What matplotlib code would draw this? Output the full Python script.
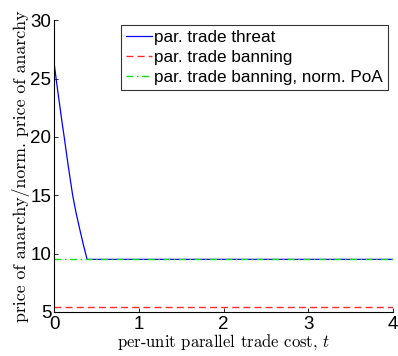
import matplotlib
matplotlib.use('Agg')
import matplotlib.pyplot as plt

plt.rcParams['mathtext.fontset'] = 'cm'

# blue curve: price of anarchy under parallel trade threat
t_threat = [0.0, 0.03, 0.06, 0.09, 0.12, 0.145, 0.17, 0.22, 0.26, 0.3, 0.345, 0.39, 1.0, 2.0, 3.0, 4.0]
poa_threat = [26.4, 24.7, 23.1, 21.5, 20.0, 18.7, 17.4, 15.0, 13.5, 12.2, 10.8, 9.5, 9.5, 9.5, 9.5, 9.5]

t_flat = [0.0, 4.0]
poa_banning = [5.4, 5.4]
poa_banning_norm = [9.5, 9.5]

labels = ['par. trade threat', 'par. trade banning', 'par. trade banning, norm. PoA']

fig = plt.figure(figsize=(3.98, 3.56), dpi=100)
ax = fig.add_axes([0.1357, 0.124, 0.852, 0.819])

ax.plot(t_threat, poa_threat, color='blue', linewidth=0.9, label=labels[0])
ax.plot(t_flat, poa_banning, color='#ff2a2a', linestyle='--', linewidth=1.0, dashes=(5, 3), label=labels[1])
ax.plot(t_flat, poa_banning_norm, color='#10e010', linestyle='-.', linewidth=1.0,
        dashes=(5, 2.5, 1.2, 2.5), label=labels[2])

ax.set_xlim(0, 4)
ax.set_ylim(5, 30)
ax.set_xticks([0, 1, 2, 3, 4])
ax.set_yticks([5, 10, 15, 20, 25, 30])
ax.spines['top'].set_visible(False)
ax.spines['right'].set_visible(False)
ax.tick_params(direction='in', length=3, labelsize=13.5, width=0.6)
ax.tick_params(axis='x', pad=3)
ax.tick_params(axis='y', pad=2)
for lab in ax.get_xticklabels() + ax.get_yticklabels():
    lab.set_fontfamily('Liberation Sans')

ax.set_xlabel('per-unit parallel trade cost, $t$', fontfamily='cmr10', fontsize=12, labelpad=-1)
ax.set_ylabel('price of anarchy/norm. price of anarchy', fontfamily='cmr10', fontsize=12.8, labelpad=0)

leg = ax.legend(loc='upper right', bbox_to_anchor=(0.985, 0.984),
                prop={'family': 'Liberation Sans', 'size': 12.3},
                frameon=True, fancybox=False, edgecolor='black',
                handlelength=1.5, handletextpad=0.15, borderpad=0.3,
                labelspacing=0.3, borderaxespad=0.0)
leg.get_frame().set_linewidth(0.8)

fig.savefig('out.png', dpi=100)
